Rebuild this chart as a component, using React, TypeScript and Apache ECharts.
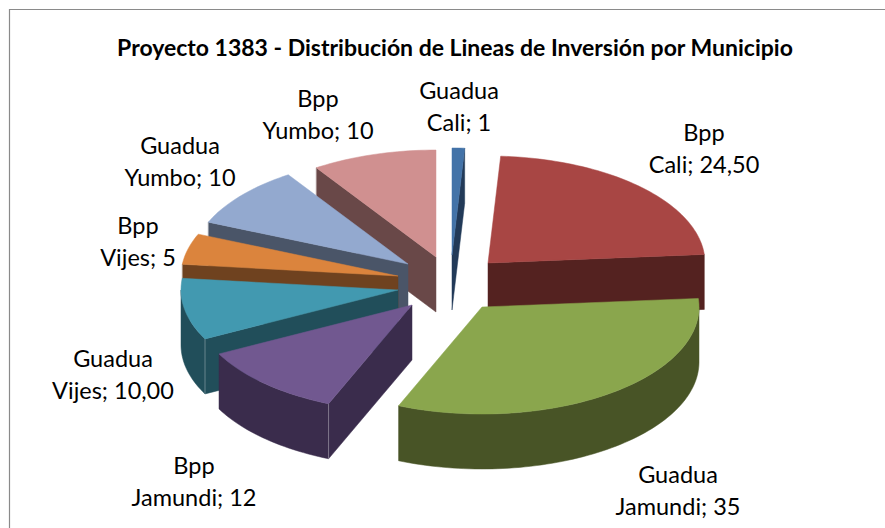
import React, { useEffect, useRef } from "react";
import * as echarts from "echarts";

const chartTitle = "Proyecto 1383 - Distribución de Lineas de Inversión por Municipio";
const lineNames = ["Guadua", "Bpp", "Guadua", "Bpp", "Guadua", "Bpp", "Guadua", "Bpp"];
const municipalities = ["Cali", "Cali", "Jamundi", "Jamundi", "Vijes", "Vijes", "Yumbo", "Yumbo"];
const values = [1, 24.5, 35, 12, 10, 5, 10, 10];
const valueLabels = ["1", "24,50", "35", "12", "10,00", "5", "10", "10"];

// Look of each slice
const topColors = ["#4373A8", "#A84644", "#8AA64D", "#715890", "#4299B0", "#DB843D", "#93A9CF", "#D09090"];
const wallColors = ["#223A58", "#542220", "#485426", "#3A2C4C", "#214E5A", "#6F421F", "#4A5568", "#694848"];
// Exploded position of each slice's apex, and the centre of its label
const apexX = [452, 488, 482, 412, 398, 398, 408, 436];
const apexY = [255, 263, 307, 305, 290, 276, 264, 257];
const labelX = [459, 704, 678, 194, 113, 138, 180, 318];
const labelY = [106, 148, 490, 481, 374, 241, 161, 114];
const paintOrder = [0, 7, 6, 5, 4, 3, 1, 2];

const RX = 217;
const RY = 107;
const DEPTH = 55;
const FONT = "Lato, Carlito, sans-serif";

const total = values.reduce((a, b) => a + b, 0);
const startAngles: number[] = [];
values.reduce((acc, v, i) => {
  startAngles[i] = (acc / total) * 360;
  return acc + v;
}, 0);

function rim(i: number, deg: number): [number, number] {
  const t = (deg * Math.PI) / 180;
  return [apexX[i] + RX * Math.sin(t), apexY[i] - RY * Math.cos(t)];
}

function arc(i: number, from: number, to: number): [number, number][] {
  const n = Math.max(2, Math.ceil((to - from) / 1.5));
  const pts: [number, number][] = [];
  for (let k = 0; k <= n; k++) pts.push(rim(i, from + ((to - from) * k) / n));
  return pts;
}

const down = (p: [number, number]): [number, number] => [p[0], p[1] + DEPTH];

function renderSlice(params: any) {
  const i = paintOrder[params.dataIndex];
  const a0 = startAngles[i];
  const a1 = a0 + (values[i] / total) * 360;
  const apex: [number, number] = [apexX[i], apexY[i]];
  const children: any[] = [];
  const wall = (points: [number, number][]) =>
    children.push({
      type: "polygon",
      shape: { points },
      style: { fill: wallColors[i], stroke: wallColors[i], lineWidth: 0.5 },
    });
  const edge = (points: [number, number][]) =>
    children.push({
      type: "polyline",
      shape: { points },
      style: { fill: null, stroke: "rgba(255,255,255,0.4)", lineWidth: 0.8 },
    });

  // outer curved wall: only the part facing the viewer
  const o0 = Math.max(a0, 90);
  const o1 = Math.min(a1, 270);
  if (o1 > o0) {
    const top = arc(i, o0, o1);
    wall([...top, ...top.slice().reverse().map(down)]);
  }
  // flat cut walls that face the viewer
  if (a1 > 0 && a1 < 180) {
    const r = rim(i, a1);
    wall([apex, r, down(r), down(apex)]);
  }
  if (a0 > 180 && a0 < 360) {
    const r = rim(i, a0);
    wall([apex, r, down(r), down(apex)]);
    edge([r, down(r)]);
  }
  // top face
  children.push({
    type: "polygon",
    shape: { points: [apex, ...arc(i, a0, a1)] },
    style: { fill: topColors[i], stroke: topColors[i], lineWidth: 0.5 },
  });
  // label
  children.push({
    type: "text",
    style: {
      x: labelX[i],
      y: labelY[i],
      text: `${lineNames[i]}\n${municipalities[i]}; ${valueLabels[i]}`,
      font: `400 23.5px ${FONT}`,
      fill: "#000000",
      align: "center",
      verticalAlign: "middle",
      lineHeight: 31.5,
    },
  });
  return { type: "group", children };
}

export default function App() {
  const ref = useRef<HTMLDivElement>(null);
  useEffect(() => {
    const chart = echarts.init(ref.current!, null, { renderer: "svg" });
    chart.setOption({
      animation: false,
      backgroundColor: "#ffffff",
      title: {
        text: chartTitle,
        left: 450,
        top: 30,
        textAlign: "center",
        textStyle: { fontFamily: FONT, fontSize: 23, fontWeight: 700, color: "#000000" },
      },
      graphic: [
        {
          type: "polyline",
          shape: { points: [[9.5, 528], [9.5, 9.5], [885, 9.5]] },
          style: { fill: null, stroke: "#8a8a8a", lineWidth: 1.2 },
        },
      ],
      series: [
        {
          type: "custom",
          coordinateSystem: "none",
          silent: true,
          data: paintOrder.map((i) => values[i]),
          renderItem: renderSlice,
        },
      ],
    });
    return () => chart.dispose();
  }, []);
  return <div ref={ref} style={{ position: "fixed", left: 0, top: 0, width: 885, height: 528 }} />;
}
